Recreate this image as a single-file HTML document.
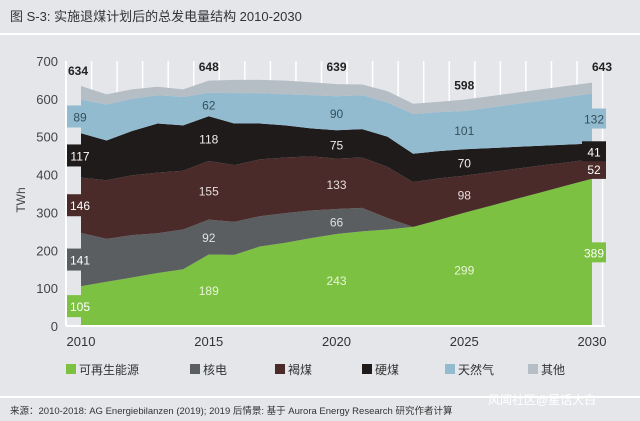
<!DOCTYPE html>
<html><head><meta charset="utf-8">
<style>
body{margin:0;background:#e4e6ea;font-family:"Liberation Sans","Noto Sans CJK SC",sans-serif;}
#wrap{position:relative;width:640px;height:421px;overflow:hidden;background:#e4e6ea;}
</style></head>
<body>
<div id="wrap">
<svg id="chart" width="640" height="421" xmlns="http://www.w3.org/2000/svg">
<text x="10" y="21" font-size="13" fill="#333">图 S-3: 实施退煤计划后的总发电量结构 2010-2030</text>
<line x1="0" y1="34" x2="640" y2="34" stroke="#fff" stroke-width="2"/>
<g id="grid"></g>
<g id="areas"></g>
<g id="labels"></g>
<g id="axes"></g>
<g id="legend"></g>
<line x1="0" y1="397" x2="640" y2="397" stroke="#fff" stroke-width="2"/>
<text x="10" y="414" font-size="9.5" fill="#333">来源：2010-2018: AG Energiebilanzen (2019); 2019 后情景: 基于 Aurora Energy Research 研究作者计算</text>
<text x="488" y="404" font-size="12" fill="#fff">风闻社区@星话大白</text>
</svg>
</div>
<script>
const years=[2010,2011,2012,2013,2014,2015,2016,2017,2018,2019,2020,2021,2022,2023,2024,2025,2026,2027,2028,2029,2030];
const renewables=[105,117,128,140,150,189,188,210,220,232,243,250,255,262,280,299,317,335,353,371,389];
const nuclear=[141,113,112,105,105,92,87,80,78,73,66,62,30,0,0,0,0,0,0,0,0];
const lignite=[146,155,158,160,155,155,150,150,147,143,133,133,135,118,110,98,89,80,71,61,52];
const hardCoal=[117,105,117,130,120,118,110,95,85,74,75,75,80,75,72,70,64,58,52,47,41];
const gas=[89,95,85,75,75,62,80,80,82,88,90,90,90,105,103,101,107,113,119,126,132];
const other=[36,27,25,22,20,32,35,35,36,34,32,28,30,27,27,30,30,30,30,29,29];
const seriesNames=["可再生能源","核电","褐煤","硬煤","天然气","其他"];
const seriesKeys=["renewables","nuclear","lignite","hard-coal","gas","other"];
const yTicks=[0,100,200,300,400,500,600,700];
const xTicks=[2010,2015,2020,2025,2030];
const labelYears=[2015,2020,2025];

const NS="http://www.w3.org/2000/svg";
const series=[renewables,nuclear,lignite,hardCoal,gas,other];
const colors=["#7cc142","#5b5e60","#4a2b29","#1f1b1b","#92bbcf","#b5bdc5"];
const labelColors=["#e8f5d8","#e0e0e0","#e6dcdc","#eeeeee","#34505c","#333"];
const X=y=>81+(y-2010)*(592-81)/20;
const Y=v=>326-v*(265/700);
function el(t,a,p){const e=document.createElementNS(NS,t);for(const k in a)e.setAttribute(k,a[k]);p.appendChild(e);return e;}
const grid=document.getElementById('grid'),areas=document.getElementById('areas'),labels=document.getElementById('labels'),axes=document.getElementById('axes'),legend=document.getElementById('legend');

for(let y=2010;y<=2031;y++){
  const l=el('line',{x1:X(y)-15,y1:Y(700),x2:X(y)-15,y2:326,stroke:'#fff','stroke-width':1.5},grid);
  
  
}
const cum=years.map(()=>0);
const totals=years.map((_,i)=>series.reduce((s,a)=>s+a[i],0));
series.forEach((arr,si)=>{
  const lo=cum.slice();
  years.forEach((_,i)=>cum[i]+=arr[i]);
  let d='M'+years.map((y,i)=>X(y)+','+Y(cum[i])).join(' L');
  for(let i=years.length-1;i>=0;i--)d+=' L'+X(years[i])+','+Y(lo[i]);
  d+='Z';
  const p=el('path',{d:d,fill:colors[si]},areas);
  
  
  const mid0=(lo[0]+cum[0])/2;
  if(si<5){
    const r=el('rect',{x:66,y:Y(mid0)-11,width:29,height:22,fill:colors[si]},labels);
    
    
    const t=el('text',{x:80,y:Y(mid0)+5,'font-size':12,'text-anchor':'middle',fill:si==4?'#34505c':'#fff'},labels);
    t.textContent=arr[0];
    
    
  }
  const n=years.length-1;
  const midN=(lo[n]+cum[n])/2;
  if(arr[n]>0&&si<5){
    const r2=el('rect',{x:X(2030)-10,y:Y(midN)-10,width:24,height:20,fill:colors[si]},labels);
    
    
    const t2=el('text',{x:X(2030)+2,y:Y(midN)+5,'font-size':12,'text-anchor':'middle',fill:si==4?'#34505c':'#fff'},labels);
    t2.textContent=arr[n];
    
    
  }
  labelYears.forEach(ly=>{
    const i=years.indexOf(ly);
    if(arr[i]<=0||si==5)return;
    const m=(lo[i]+cum[i])/2;
    const t=el('text',{x:X(ly),y:Y(m)+5,'font-size':12,'text-anchor':'middle',fill:labelColors[si]},labels);
    t.textContent=arr[i];
    
    
  });
});
[2010,2015,2020,2025,2030].forEach(ty=>{
  const i=years.indexOf(ty);
  const yy=ty==2010?Y(700)+14:(ty==2025?Y(totals[i])-10:Y(700)+10);
  const t=el('text',{x:ty==2010?68:(ty==2030?X(ty)+10:X(ty)),y:yy,'font-size':12,'font-weight':'bold','text-anchor':ty==2010?'start':'middle',fill:'#222'},labels);
  t.textContent=totals[i];
  
  
});
const ax=el('line',{x1:66,y1:326,x2:605,y2:326,stroke:'#fff','stroke-width':2},axes);


const ay=el('line',{x1:66,y1:Y(700),x2:66,y2:326,stroke:'#fff','stroke-width':2},axes);


yTicks.forEach(v=>{
  const t=el('text',{x:58,y:Y(v)+5,'font-size':13,'text-anchor':'end',fill:'#444'},axes);
  t.textContent=v;
  
  
});
xTicks.forEach(v=>{
  const t=el('text',{x:X(v),y:346,'font-size':13,'text-anchor':'middle',fill:'#333'},axes);
  t.textContent=v;
  
  
});
const yt=el('text',{x:25,y:200,'font-size':12,'text-anchor':'middle',fill:'#444',transform:'rotate(-90 25 200)'},axes);
yt.textContent='TWh';


const lx=[66,190,275,362,445,528];
seriesNames.forEach((nm,si)=>{
  const g=el('g',{},legend);
  
  
  el('rect',{x:lx[si],y:364,width:10,height:10,fill:colors[si]},g);
  const t=el('text',{x:lx[si]+13,y:374,'font-size':12,fill:'#333'},g);
  t.textContent=nm;
});
</script>
</body></html>
